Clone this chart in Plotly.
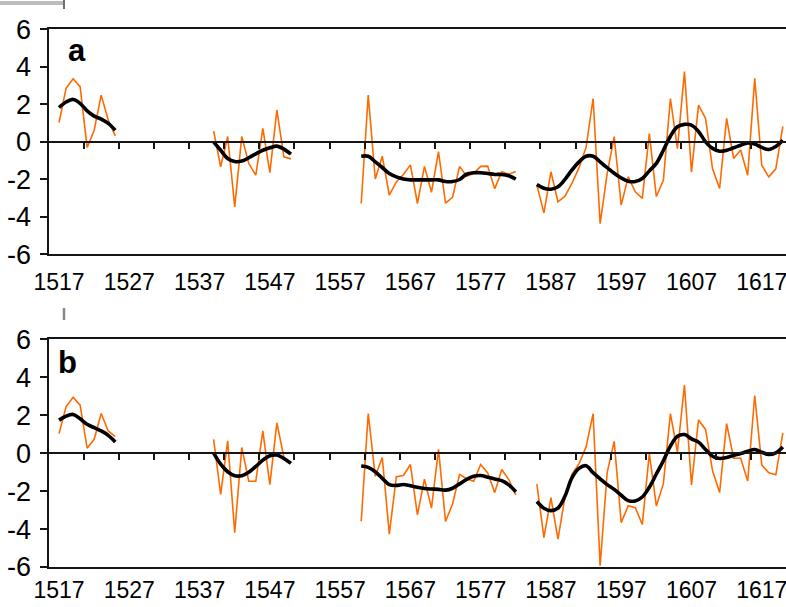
import plotly.graph_objects as go

# ---------------- data ----------------
SEG_STARTS = [1517, 1539, 1560, 1585]
LABEL_YEARS = [1517, 1527, 1537, 1547, 1557, 1567, 1577, 1587, 1597, 1607, 1617]
MINOR_TICKS = [1520.5 + 5 * i for i in range(20)]
Y_TICKS = [-6, -4, -2, 0, 2, 4, 6]

a_annual = [
    [1.03, 2.85, 3.36, 2.94, -0.30, 0.62, 2.49, 1.16, 0.32],
    [0.57, -1.33, 0.28, -3.47, 0.28, -1.16, -1.78, 0.71, -1.64, 1.69, -0.80, -0.91],
    [-3.29, 2.49, -1.98, -0.77, -2.85, -2.14, -1.74, -1.23, -3.29, -1.31, -2.69, -0.53,
     -3.27, -2.96, -1.31, -1.84, -1.69, -1.31, -1.30, -2.50, -1.60, -1.73, -1.58],
    [-2.31, -3.79, -1.60, -3.20, -2.90, -2.2, -1.38, -0.3, 2.31, -4.36, -1.7, 0.28,
     -3.38, -1.87, -2.67, -3.02, 0.44, -2.92, -2.05, 2.31, -0.36, 3.74, -1.62, 1.96,
     1.25, -1.44, -2.49, 1.25, -0.89, -0.44, -1.78, 3.38, -1.25, -1.87, -1.44, 0.82],
]
a_smooth = [
    [1.83, 2.12, 2.26, 2.05, 1.65, 1.37, 1.21, 0.98, 0.62],
    [0.0, -0.45, -0.89, -1.05, -1.03, -0.85, -0.64, -0.45, -0.32, -0.23, -0.39, -0.66],
    [-0.77, -0.77, -1.07, -1.37, -1.69, -1.87, -1.98, -2.03, -2.03, -2.03, -2.03, -2.03,
     -2.12, -2.12, -2.01, -1.73, -1.65, -1.65, -1.69, -1.74, -1.74, -1.81, -1.99],
    [-2.28, -2.48, -2.53, -2.40, -2.0, -1.5, -1.07, -0.77, -0.77, -1.07, -1.38, -1.68,
     -1.93, -2.1, -2.12, -1.96, -1.55, -1.15, -0.45, 0.3, 0.8, 0.93, 0.89, 0.55,
     0.0, -0.35, -0.5, -0.45, -0.32, -0.18, -0.06, -0.12, -0.3, -0.41, -0.25, 0.08],
]
b_annual = [
    [1.03, 2.44, 2.95, 2.53, 0.26, 0.73, 2.09, 1.17, 0.87],
    [0.73, -2.18, 0.65, -4.19, 0.30, -1.48, -1.48, 1.17, -1.66, 1.60, -0.23, -0.50],
    [-3.59, 2.09, -1.22, -0.23, -4.27, -1.24, -1.18, -0.60, -3.25, -1.37, -2.90, 0.20,
     -3.60, -2.68, -1.12, -1.35, -1.48, -0.60, -1.04, -2.08, -0.86, -1.39, -2.20],
    [-1.63, -4.45, -2.35, -4.53, -2.3, -1.11, -0.55, 0.33, 2.08, -5.93, -1.02, 0.62,
     -3.66, -2.77, -2.87, -3.76, -0.01, -2.78, -1.61, 2.08, 0.06, 3.59, -1.67, 1.75,
     1.25, -0.93, -2.08, 1.56, -0.27, -0.27, -1.47, 3.04, -0.62, -1.04, -1.14, 1.07],
]
b_smooth = [
    [1.74, 1.95, 2.04, 1.81, 1.52, 1.34, 1.17, 0.94, 0.59],
    [0.0, -0.58, -0.98, -1.19, -1.19, -1.01, -0.70, -0.37, -0.14, -0.10, -0.28, -0.54],
    [-0.68, -0.75, -0.98, -1.33, -1.66, -1.70, -1.65, -1.72, -1.80, -1.86, -1.89, -1.91,
     -1.95, -1.85, -1.62, -1.38, -1.22, -1.18, -1.27, -1.36, -1.45, -1.67, -2.03],
    [-2.55, -2.9, -3.03, -2.9, -2.26, -1.29, -0.8, -0.66, -1.03, -1.35, -1.66, -1.91,
     -2.22, -2.5, -2.52, -2.31, -1.8, -1.1, -0.4, 0.37, 0.89, 0.98, 0.75, 0.58,
     0.19, -0.16, -0.28, -0.23, -0.12, -0.02, 0.10, 0.19, 0.05, -0.07, 0.02, 0.33],
]

# ---------------- layout constants ----------------
W, H = 786, 607
ORANGE = "#ff6a00"
AXC = "#151515"
X_RANGE = [1515.5, 1620.45]
XDOM = [48.5 / W, 1.0]
YDOM_A = [(H - 254.3) / H, (H - 29.3) / H]
YDOM_B = [(H - 567.0) / H, (H - 339.3) / H]
FONT = "Liberation Sans, Arial, sans-serif"


def build(segs):
    xs, ys = [], []
    for start, vals in zip(SEG_STARTS, segs):
        xs += list(range(start, start + len(vals))) + [None]
        ys += list(vals) + [None]
    return xs, ys


fig = go.Figure()
for (ann, smo, xa, ya) in [(a_annual, a_smooth, "x", "y"), (b_annual, b_smooth, "x2", "y2")]:
    x1, y1 = build(ann)
    fig.add_trace(go.Scatter(x=x1, y=y1, xaxis=xa, yaxis=ya, mode="lines",
                             line=dict(color=ORANGE, width=1.6), showlegend=False,
                             hoverinfo="skip"))
    x2, y2 = build(smo)
    fig.add_trace(go.Scatter(x=x2, y=y2, xaxis=xa, yaxis=ya, mode="lines",
                             line=dict(color="black", width=3.6, shape="spline", smoothing=1.0),
                             showlegend=False, hoverinfo="skip"))

# dummy traces so the zero-line tick axes get drawn
fig.add_trace(go.Scatter(x=[None], y=[None], xaxis="x3", yaxis="y", showlegend=False, hoverinfo="skip"))
fig.add_trace(go.Scatter(x=[None], y=[None], xaxis="x4", yaxis="y2", showlegend=False, hoverinfo="skip"))


def bottom_axis(anchor, standoff):
    return dict(domain=XDOM, range=X_RANGE, anchor=anchor, tickmode="array",
                tickvals=LABEL_YEARS, ticktext=[str(v) for v in LABEL_YEARS],
                ticks="", showline=True, linecolor=AXC, linewidth=2, mirror=True,
                showgrid=False, zeroline=False, automargin=False,
                ticklabeloverflow="allow",
                tickfont=dict(family=FONT, size=23, color="black"),
                ticklabelstandoff=standoff)


def zero_axis(over, pos):
    return dict(domain=XDOM, range=X_RANGE, overlaying=over, anchor="free", position=pos,
                side="bottom", tickmode="array", tickvals=MINOR_TICKS, ticks="outside",
                ticklen=6, tickwidth=2, tickcolor=AXC, showticklabels=False,
                showline=True, linecolor=AXC, linewidth=2, showgrid=False,
                zeroline=False, automargin=False)


def left_axis(dom):
    return dict(domain=dom, range=[-6, 6], tickmode="array", tickvals=Y_TICKS,
                ticktext=[str(v) for v in Y_TICKS], ticks="outside", ticklen=7,
                tickwidth=2, tickcolor=AXC, showline=True, linecolor=AXC, linewidth=2,
                showgrid=False, zeroline=False, automargin=False,
                tickfont=dict(family=FONT, size=27, color="black"), ticklabelstandoff=3)


def px(xp, yp):
    return xp / W, (H - yp) / H


fig.update_layout(
    width=W, height=H, margin=dict(l=0, r=0, t=0, b=0),
    paper_bgcolor="white", plot_bgcolor="white",
    xaxis=bottom_axis("y", 6), xaxis2=bottom_axis("y2", 1),
    xaxis3=zero_axis("x", sum(YDOM_A) / 2), xaxis4=zero_axis("x2", sum(YDOM_B) / 2),
    yaxis=left_axis(YDOM_A), yaxis2=left_axis(YDOM_B),
)

ax, ay = px(77, 50)
bx, by = px(67.5, 362)
fig.add_annotation(text="<b>a</b>", xref="paper", yref="paper", x=ax, y=ay,
                   xanchor="center", yanchor="middle", showarrow=False,
                   font=dict(family=FONT, size=31, color="black"))
fig.add_annotation(text="<b>b</b>", xref="paper", yref="paper", x=bx, y=by,
                   xanchor="center", yanchor="middle", showarrow=False,
                   font=dict(family=FONT, size=31, color="black"))

# small grey remnants visible at the top-left of each panel in the reference
x0, y0 = px(0, 1)
x1, y1 = px(63, 5)
fig.add_shape(type="rect", xref="paper", yref="paper", x0=x0, y0=y0, x1=x1, y1=y1,
              fillcolor="#bdbdbd", line=dict(width=0))
x0, y0 = px(64, 0)
x1, y1 = px(64, 9)
fig.add_shape(type="line", xref="paper", yref="paper", x0=x0, y0=y0, x1=x1, y1=y1,
              line=dict(color="#6e6e6e", width=2))
x0, y0 = px(64, 308)
x1, y1 = px(64, 320)
fig.add_shape(type="line", xref="paper", yref="paper", x0=x0, y0=y0, x1=x1, y1=y1,
              line=dict(color="#888888", width=2.5))

fig.write_html("out.html",
               config={"displayModeBar": False, "staticPlot": True},
               post_script="document.body.style.margin='0px';document.body.style.overflow='hidden';")
